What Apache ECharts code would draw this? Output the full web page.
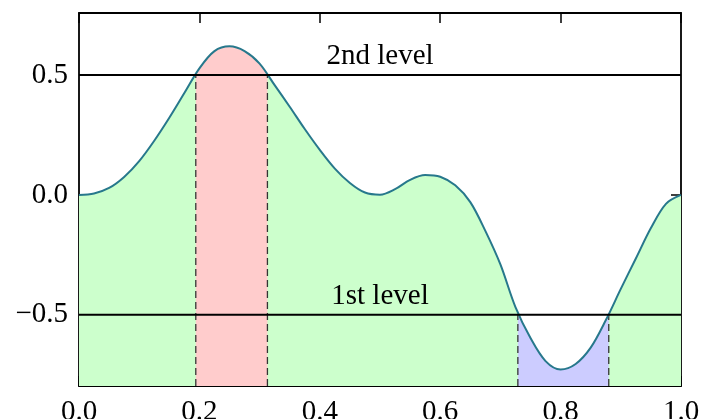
<!DOCTYPE html>
<html>
<head>
<meta charset="utf-8">
<script src="https://cdn.jsdelivr.net/npm/echarts@6/dist/echarts.min.js"></script>
<style>
  html, body { margin: 0; padding: 0; background: #fff; }
  #chart { width: 701px; height: 419px; }
</style>
</head>
<body>
<div id="chart"></div>
<script>
// Signal samples, evenly spaced in x
const xs = [0, 0.025, 0.05, 0.075, 0.1, 0.125, 0.15, 0.175, 0.2, 0.225, 0.25, 0.275, 0.3, 0.325,
            0.35, 0.375, 0.4, 0.425, 0.45, 0.475, 0.5, 0.525, 0.55, 0.575, 0.6, 0.625, 0.65, 0.675,
            0.7, 0.725, 0.75, 0.775, 0.8, 0.825, 0.85, 0.875, 0.9, 0.925, 0.95, 0.975, 1.0];
const ys = [0, 0.006, 0.029, 0.075, 0.141, 0.226, 0.322, 0.425, 0.528, 0.600, 0.620, 0.600, 0.548, 0.458,
            0.368, 0.275, 0.188, 0.110, 0.050, 0.010, 0.001, 0.024, 0.063, 0.083, 0.076, 0.040, -0.030, -0.150,
            -0.290, -0.468, -0.597, -0.693, -0.728, -0.705, -0.637, -0.523, -0.392, -0.265, -0.138, -0.037, 0];

// Threshold levels and their names
const levels = [-0.5, 0.5];
const levelNames = ['1st level', '2nd level'];

// Intervals where the signal goes beyond a level
const upperSpan = [0.194, 0.313];   // above the 2nd level
const lowerSpan = [0.729, 0.880];   // below the 1st level

// Axes
const xTicks = [0, 0.2, 0.4, 0.6, 0.8, 1.0];
const yTicks = [-0.5, 0, 0.5];
const yRange = [-0.797, 0.759];

const FONT = "'Liberation Serif', 'DejaVu Serif', serif";
const SMOOTH = 0.33;
const pts = xs.map((x, i) => [x, ys[i]]);
// samples inside a span, closed by the crossing points on the level
const within = (span, level) => [[span[0], level]]
  .concat(pts.filter(p => p[0] > span[0] && p[0] < span[1]))
  .concat([[span[1], level]]);
const fmt = v => (v < 0 ? '\u2212' : '') + Math.abs(v).toFixed(1);

function areaSeries(data, color, z) {
  return {
    type: 'line', data, smooth: SMOOTH, symbol: 'none', z,
    lineStyle: { width: 0 },
    areaStyle: { color, opacity: 1, origin: 'start' },
    silent: true
  };
}

function dashedEdge(x, level) {
  return {
    type: 'line', data: [[x, yRange[0]], [x, level]], symbol: 'none', z: 4,
    lineStyle: { color: '#333', width: 1.3, type: [7, 4] }, silent: true
  };
}

const axisCommonX = {
  type: 'value', min: 0, max: 1, interval: 0.2,
  axisLine: { show: true, onZero: false, lineStyle: { color: '#000', width: 1.8 } },
  axisTick: { show: true, inside: true, length: 10, lineStyle: { color: '#000', width: 1.5 } },
  splitLine: { show: false }
};
const axisCommonY = {
  type: 'value', min: yRange[0], max: yRange[1],
  axisLine: { show: true, onZero: false, lineStyle: { color: '#000', width: 1.8 } },
  axisTick: { show: true, inside: true, length: 10, customValues: yTicks, lineStyle: { color: '#000', width: 1.5 } },
  splitLine: { show: false }
};

const series = [
  areaSeries(pts, '#ccffcc', 1),
  areaSeries(within(upperSpan, levels[1]), '#ffcccc', 2),
  areaSeries(within(lowerSpan, levels[0]), '#ccccff', 2),
  dashedEdge(upperSpan[0], levels[1]),
  dashedEdge(upperSpan[1], levels[1]),
  dashedEdge(lowerSpan[0], levels[0]),
  dashedEdge(lowerSpan[1], levels[0]),
  // signal curve
  {
    type: 'line', data: pts, smooth: SMOOTH, symbol: 'none', z: 5,
    lineStyle: { color: '#27788c', width: 2 }, silent: true
  }
];

levels.forEach((lv, i) => {
  series.push({
    type: 'line', data: [[0, lv], [1, lv]], symbol: 'none', z: 6,
    lineStyle: { color: '#000', width: 2 }, silent: true
  });
  series.push({
    type: 'scatter', data: [[0.5, lv]], symbolSize: 0, z: 7, silent: true,
    itemStyle: { opacity: 1 },
    label: {
      show: true, position: 'top', distance: 4,
      formatter: levelNames[i], color: '#000', fontFamily: FONT, fontSize: 29
    }
  });
});

const chart = echarts.init(document.getElementById('chart'), null, { renderer: 'canvas' });
chart.setOption({
  animation: false,
  backgroundColor: '#fff',
  grid: { left: 79, right: 20, top: 13, bottom: 33, outerBoundsMode: 'none', containLabel: false },
  xAxis: [
    Object.assign({}, axisCommonX, {
      position: 'bottom',
      axisLabel: { show: true, margin: 12, formatter: v => v.toFixed(1), color: '#000', fontFamily: FONT, fontSize: 29 }
    }),
    Object.assign({}, axisCommonX, { position: 'top', axisLabel: { show: false } })
  ],
  yAxis: [
    Object.assign({}, axisCommonY, {
      position: 'left',
      axisLabel: { show: true, margin: 11, customValues: yTicks, formatter: fmt, color: '#000', fontFamily: FONT, fontSize: 29 }
    }),
    Object.assign({}, axisCommonY, { position: 'right', axisLabel: { show: false } })
  ],
  series
});
</script>
</body>
</html>
